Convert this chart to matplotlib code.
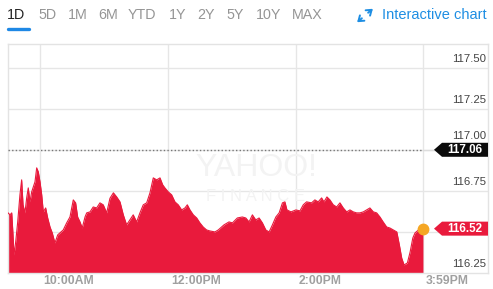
import matplotlib
matplotlib.use("Agg")
import matplotlib.pyplot as plt
from matplotlib.patches import Polygon, FancyArrowPatch
from matplotlib.transforms import IdentityTransform
from matplotlib.lines import Line2D

plt.rcParams['font.family'] = ['Liberation Sans', 'DejaVu Sans']

# ---------------- data ----------------
range_tabs = ["1D", "5D", "1M", "6M", "YTD", "1Y", "2Y", "5Y", "10Y", "MAX"]
time_tick_minutes = [30, 150, 270, 389]          # minutes after 9:30 AM
time_tick_labels = ["10:00AM", "12:00PM", "2:00PM", "3:59PM"]
price_ticks = [116.25, 116.50, 116.75, 117.00, 117.25, 117.50]
price_tick_labels = ["116.25", "", "116.75", "117.00", "117.25", "117.50"]
prev_close_label = "117.06"
prev_close_level = 117.00
last_price = 116.52
last_label = "116.52"

minutes = [0, 1.9, 3.5, 4.7, 5.6, 7.2, 9.1, 11.2, 12.8, 14.1, 15.9, 17.5, 19.0, 20.6,
           22.2, 23.7, 25.3, 26.9, 28.4, 30.0, 31.6, 33.1, 35.3, 37.2, 39.4, 41.5,
           44.0, 46.6, 48.7, 51.8, 55.0, 58.1, 61.2, 63.4, 65.3, 67.5, 69.6, 72.2,
           73.8, 76.9, 79.9, 83.1, 86.2, 89.3, 92.5, 95.6, 98.8, 101.9, 105.0, 108.1,
           111.2, 114.3, 117.4, 120.6, 123.7, 126.8, 130.0, 133.1, 136.2, 139.4,
           142.5, 145.0, 147.1, 150.2, 153.4, 156.5, 159.6, 162.8, 165.9, 168.1,
           170.6, 173.7, 176.9, 179.9, 183.0, 186.2, 189.3, 194.0, 197.1, 202.5,
           207.2, 210.4, 215.0, 219.7, 222.9, 226.0, 229.1, 232.3, 235.4, 238.5,
           241.7, 244.8, 247.9, 251.1, 254.2, 257.3, 259.6, 261.5, 265.3, 269.9,
           273.7, 276.8, 279.9, 284.6, 287.7, 290.8, 294.0, 296.2, 299.0, 301.8,
           304.9, 308.1, 311.2, 314.3, 317.5, 320.6, 323.7, 326.8, 329.9, 333.1,
           336.2, 339.3, 342.5, 345.6, 348.7, 351.7, 355.0, 358.0, 361.3, 364.5,
           366.9, 369.1, 371.3, 374.4, 377.0, 379.5, 381.6, 384.8, 389.0]
prices = [116.616, 116.604, 116.616, 116.482, 116.360, 116.439, 116.561, 116.726,
          116.817, 116.665, 116.616, 116.707, 116.768, 116.683, 116.744, 116.774,
          116.805, 116.890, 116.866, 116.805, 116.726, 116.622, 116.646, 116.585,
          116.530, 116.494, 116.433, 116.482, 116.494, 116.512, 116.555, 116.591,
          116.695, 116.677, 116.591, 116.561, 116.524, 116.591, 116.616, 116.622,
          116.652, 116.646, 116.677, 116.665, 116.616, 116.705, 116.738, 116.713,
          116.683, 116.604, 116.543, 116.573, 116.604, 116.561, 116.616, 116.665,
          116.677, 116.738, 116.829, 116.817, 116.829, 116.787, 116.768, 116.744,
          116.726, 116.683, 116.665, 116.634, 116.646, 116.665, 116.634, 116.604,
          116.585, 116.555, 116.530, 116.512, 116.506, 116.500, 116.512, 116.543,
          116.561, 116.555, 116.585, 116.591, 116.585, 116.561, 116.604, 116.573,
          116.585, 116.555, 116.512, 116.500, 116.543, 116.591, 116.616, 116.677,
          116.683, 116.634, 116.622, 116.634, 116.628, 116.665, 116.683, 116.677,
          116.695, 116.683, 116.707, 116.683, 116.713, 116.695, 116.665, 116.652,
          116.677, 116.646, 116.622, 116.634, 116.622, 116.616, 116.616, 116.622,
          116.634, 116.646, 116.622, 116.616, 116.591, 116.561, 116.530, 116.524,
          116.512, 116.500, 116.421, 116.341, 116.299, 116.311, 116.378, 116.463,
          116.494, 116.512, 116.520]

# ---------------- figure ----------------
W, H = 493, 289
fig = plt.figure(figsize=(W / 100, H / 100), dpi=100)
fig.patch.set_facecolor("white")

def fx(x):
    return x / W

def fy(y):
    return 1 - y / H

ax = fig.add_axes([fx(8), (H - 273) / H, 480 / W, (273 - 44) / H])
ax.set_xlim(0, 450)
ax.set_ylim(116.25, 117.644)
ax.set_xticks([])
ax.set_yticks([])
for s in ax.spines.values():
    s.set_color("#e3e3e3")
    s.set_linewidth(1)

grid_c = "#e6e6e6"
for p in price_ticks[1:]:
    ax.axhline(p, color=grid_c, lw=1, zorder=0)
for t in time_tick_minutes:
    ax.axvline(t, color=grid_c, lw=1, zorder=0)

# watermark
ax.text(248 / 480 * 450, 116.25 + (273 - 168) / 164, "YAHOO!", fontsize=23,
        color="#f3f3f3", ha="center", va="center", zorder=1)
ax.text(248 / 480 * 450, 116.25 + (273 - 197) / 164, "F I N A N C E", fontsize=12,
        color="#f3f3f3", ha="center", va="center", zorder=1)

red = "#e91a3c"
ax.fill_between(minutes, prices, 116.25, color=red, lw=0, zorder=2)
ax.plot(minutes, prices, color=red, lw=0.8, zorder=3)

# previous close dotted line
ax.plot([0, 389], [prev_close_level, prev_close_level], color="#777777", lw=1,
        ls=(0, (1, 1.6)), zorder=4)
ax.plot([389, 405], [prev_close_level, prev_close_level], color="#dddddd", lw=1, zorder=4)

# last point marker
ax.plot([389], [last_price], marker="o", ms=7.5, color="#f5a623", mec="#f5a623", zorder=6)

# y labels inside right
for p, lab in zip(price_ticks, price_tick_labels):
    if not lab:
        continue
    dy = 13.5 if lab == "117.00" else 8.8
    ax.annotate(lab, xy=(1, p), xycoords=("axes fraction", "data"),
                xytext=(-1.5, dy), textcoords="offset pixels",
                ha="right", va="center", fontsize=8.2, color="#444444", zorder=5)

# x labels
for t, lab in zip(time_tick_minutes, time_tick_labels):
    ax.annotate(lab, xy=(t, 0), xycoords=("data", "axes fraction"),
                xytext=(3, -8.5), textcoords="offset pixels",
                ha="left", va="center", fontsize=8.8, fontweight="bold",
                color="#a0a0a0", annotation_clip=False)

# price tags
def tag(level, text, color):
    right = ax.transAxes.transform((1, 0))[0]
    yc = ax.transData.transform((0, level))[1]
    tip = right - 54
    body = right - 46
    h = 7
    poly = Polygon([(tip, yc), (body, yc + h), (right, yc + h), (right, yc - h), (body, yc - h)],
                   closed=True, transform=IdentityTransform(), facecolor=color,
                   edgecolor="none", zorder=7)
    fig.add_artist(poly)
    fig.text((body + right) / 2 / W, yc / H, text, ha="center", va="center",
             fontsize=8.4, fontweight="bold", color="white", zorder=8)

tag(prev_close_level, prev_close_label, "#0b0b0b")
tag(last_price, last_label, red)

# ---------------- header ----------------
tab_x = [7, 38, 68, 98, 128, 169, 197, 226, 256, 292]
for i, (lab, x) in enumerate(zip(range_tabs, tab_x)):
    fig.text(fx(x), fy(15), lab, ha="left", va="center", fontsize=10.3,
             color="#222222" if i == 0 else "#959595")
fig.add_artist(Line2D([fx(8), fx(29)], [fy(29), fy(29)], color="#1e88e5", lw=2.4,
                      solid_capstyle="round", transform=fig.transFigure))

blue = "#1e8ee3"
for (x0, y0, x1, y1) in [(366, 14.5, 375, 7), (364, 16.5, 355, 24)]:
    fig.add_artist(FancyArrowPatch((fx(x0), fy(y0)), (fx(x1), fy(y1)),
                                   transform=fig.transFigure,
                                   arrowstyle="->,head_length=0.35,head_width=0.25",
                                   color=blue, lw=1.4, mutation_scale=10))
fig.text(fx(382), fy(15), "Interactive chart", ha="left", va="center",
         fontsize=10.5, color=blue)

fig.savefig("out.png", dpi=100, facecolor="white")
